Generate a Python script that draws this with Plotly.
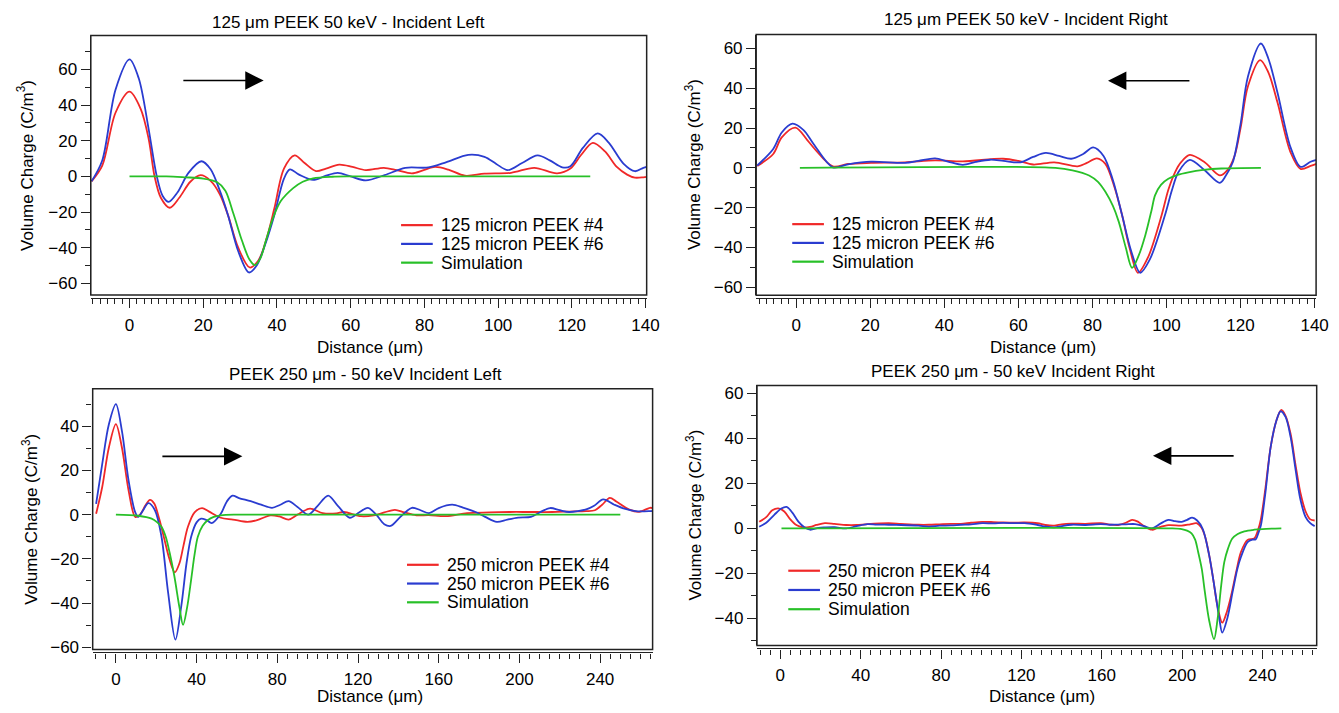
import plotly.graph_objects as go

W, H = 1339, 713
FONT = "Liberation Sans, Arial, sans-serif"
RED, BLUE, GREEN = "#f02828", "#2a3cd0", "#28c028"
FS = 17

# ---------------- data ----------------
# Panel 1: 125 um PEEK, incident left
p1_red_x = [-10.3, -7.4, -3.8, 0, 3, 5.2, 6.8, 8.5, 10.9, 13.5, 16.5, 19.3, 22, 24.5, 26.7, 29.5, 32.6, 35, 37.3, 39.3, 41.9, 44.8, 47.5, 50.6, 53.3, 56.9, 60.5, 64.1, 69, 72.5, 76.6, 79.8, 82.9, 86.5, 91, 96.3, 103.5, 109.8, 116, 119.6, 122.5, 125.7, 129, 132.2, 135, 137.1, 139.4, 140.5]
p1_red_y = [-2.8, 6, 35.7, 47.5, 38, 21, 0, -12, -17.6, -12, -3, 0.7, -2.5, -10, -21.6, -40, -51.1, -47, -34, -17.9, 4.3, 11.8, 7.5, 3, 4.4, 6.6, 5.3, 3.5, 4.8, 3.5, 1.7, 3.5, 5.3, 3.8, 0.4, 1.5, 2, 4.8, 1.7, 4.4, 12, 18.8, 14, 5.3, 1, -0.7, -0.5, -0.2]
p1_blue_x = [-10.3, -7.4, -3.8, 0, 2.5, 5.2, 7.4, 9, 10.6, 13, 16, 19.5, 22, 24.5, 26.7, 29.5, 32.4, 34.5, 37, 39.3, 41.9, 43.5, 46, 49.8, 53.3, 56.5, 60, 64.1, 69.2, 74.8, 81.1, 86, 91.9, 96.3, 99.5, 102.6, 106.5, 110.7, 114, 117.4, 119.6, 123, 127, 130, 134, 137.1, 139.4, 140.5]
p1_blue_y = [-2.8, 8.9, 48.6, 65.6, 55, 26.4, 0, -11, -14.3, -9, 2, 8.5, 4, -8, -21.6, -42, -53.9, -50, -37, -21.6, -1.3, 3.9, 1, -2, 0.4, 2, 0, -2.2, 0.7, 4.8, 5, 8, 12.1, 11, 7, 3.5, 7.5, 11.8, 9, 5.1, 5.7, 16, 24.1, 19, 7.2, 2.9, 4.8, 5.5]
p1_sim_x = [0, 10, 15, 20, 23.8, 26, 28.2, 30.5, 32.5, 34, 35.5, 37, 39, 41, 44.4, 47, 49.8, 55, 60, 125]
p1_sim_y = [0, 0, -0.5, -1.2, -3.3, -8, -21, -36, -46.5, -49.8, -46, -36, -23, -14, -6.6, -3, -1.1, -0.2, 0, 0]

# Panel 2: 125 um PEEK, incident right
p2_red_x = [-10.5, -6.2, -3.9, -0.2, 3, 5, 9.9, 14, 20.2, 29.4, 37.5, 45, 55.9, 60, 64, 69.7, 76, 78.5, 81.2, 83.5, 86, 88, 90, 92.3, 95, 98.7, 100.5, 102.3, 104, 106.3, 110.3, 114.4, 116.5, 118.4, 120, 122, 125.3, 127.5, 130, 133.5, 136.2, 138.9, 140.5]
p2_red_y = [1, 7, 15.3, 20.2, 14, 9.5, 0.8, 2, 2.5, 2.8, 3.8, 3.3, 4.6, 3.5, 1.7, 2.8, 0.8, 2.5, 4.8, 2, -10, -23.7, -40, -52.7, -45, -23.7, -11, -2.2, 3, 6.5, 2.8, -3.8, -1, 6.1, 20, 41, 54.2, 48, 32.7, 7.8, -0.5, 1, 2]
p2_blue_x = [-10.5, -6.2, -3.9, -1, 2, 4.7, 9.9, 14, 20.2, 29.4, 33, 37.5, 41, 45, 48.5, 52.4, 56, 60.5, 64, 67.4, 71, 74.3, 77.5, 80.2, 83, 85.5, 88, 90.5, 92.9, 95.5, 99.6, 101.5, 103.2, 106.3, 110.3, 114.4, 116, 117.9, 120, 122, 125.5, 127.5, 130, 133.5, 136.2, 138.9, 140.5]
p2_blue_y = [1.2, 9.5, 17.8, 22.2, 19, 12, 0.3, 1.8, 3.1, 2.5, 3.5, 4.8, 3.2, 1.5, 3, 4.1, 3.5, 2.8, 5.5, 7.5, 6, 4.6, 7, 10.3, 6, -6, -23.7, -42, -52.7, -46, -23.7, -11, -2.2, 4, -1.2, -7.5, -4, 2.8, 22, 45.9, 62.5, 55, 37.6, 10.3, 0.5, 3.1, 4]
p2_sim_x = [1, 70, 74.6, 79.1, 81.5, 83.5, 85.5, 87.1, 89, 90.7, 92.5, 94.3, 96, 96.9, 98.5, 100.5, 103, 105.9, 110, 114.8, 125.5]
p2_sim_y = [0, 0, -1.2, -3.8, -7, -12, -19, -27, -40, -50.2, -44, -33.7, -21, -13.8, -8.5, -5.5, -3.5, -2.2, -1, -0.3, 0]

# Panel 3: 250 um PEEK, incident left
p3_red_x = [-9.8, -6.8, -3.5, 0, 3, 6.3, 9.6, 12, 14.5, 16.9, 19, 21.5, 24, 26.5, 29.2, 31.5, 33.5, 35.7, 39, 42.7, 46, 52, 58, 65.2, 70, 76.6, 81, 85.6, 90, 96.2, 102.5, 109.3, 113, 121.5, 127.8, 133, 138.3, 143, 148.9, 155, 163.6, 174.1, 185, 195.2, 205, 216.3, 225, 233.1, 237.4, 241, 244.8, 248, 254.2, 259.4, 264.7, 266]
p3_red_y = [0.4, 12.4, 30.3, 41, 30.3, 10.9, -1, 0, 4, 6.7, 5, -2, -11, -20, -26.1, -22, -14, -5.5, 1, 3, 1.5, -1.4, -2.2, -3.3, -2.5, -0.3, -0.8, -2.2, 0, 2.7, 0.7, 0.6, 1.2, -0.7, -0.3, 1, 2.2, 1, -0.3, -0.2, -0.7, 0.7, 1, 1.2, 1.2, 1.2, 1.4, 1.6, 2, 4.5, 7.6, 6, 2.4, 1.3, 3.1, 3]
p3_blue_x = [-9.8, -6.8, -3.5, 0, 3, 6.3, 9.6, 11.1, 13.5, 16.1, 19.4, 22.6, 25.9, 29.5, 32.4, 35, 37.3, 40, 42.2, 45, 47.5, 52, 55, 57.8, 61, 66.8, 72, 77.4, 81.5, 85.6, 90, 95.4, 100, 105.2, 110, 115.9, 120.5, 124.9, 129, 133, 136.2, 141, 146.7, 151, 155.2, 160, 166.7, 172, 178.3, 183, 188.8, 194, 199.4, 205.7, 210, 215.2, 220, 224.6, 229, 233.1, 237, 241.5, 247, 252, 258.4, 264.7, 266]
p3_blue_y = [4.9, 22.8, 40.8, 50, 37.8, 15.4, 1, -1, 2, 5.2, 1.9, -10, -35.4, -56.6, -41.4, -22, -10, -3.5, -1.8, -2.5, -3.8, 0.4, 6, 8.6, 7.5, 6.1, 4.5, 3.1, 4.5, 6.1, 3.5, 0, 4, 8.6, 4, -1.4, 1, 3.1, 0, -4.3, -5.1, -1, 3.1, 2, 0.7, 3, 4.5, 3.2, 1.2, -1, -3.3, -2.2, -1.3, -1, 1, 3, 2, 1.2, 1.6, 2.4, 4, 6.9, 4.5, 2.7, 1.5, 1.6, 1.7]
p3_sim_x = [0, 11, 17.7, 20.5, 22.6, 24.7, 26.7, 29, 31.5, 33.3, 35.3, 37.3, 39, 40.6, 43, 45.5, 48.5, 52, 60, 250]
p3_sim_y = [0, -0.5, -1.8, -3.5, -5.5, -10, -17.5, -28, -42, -49.9, -42, -29.4, -18, -10, -5, -2.5, -1, -0.3, 0, 0]

# Panel 4: 250 um PEEK, incident right
p4_red_x = [-10.5, -7, -4, -1, 2, 5, 8, 11, 14.8, 18, 22.2, 27, 32.8, 38, 43.4, 54, 60, 68.8, 74, 79.3, 85, 89.9, 95, 100.5, 106, 111, 116, 121.6, 128, 132, 136.4, 140, 144.9, 152, 159.6, 164, 168.2, 172, 175.1, 178, 181, 185, 188, 193.2, 199.8, 204, 207.2, 209.5, 211.3, 213.5, 215.4, 217.5, 220, 222.3, 224.5, 227, 229.3, 232.6, 235.9, 237.7, 239.2, 241.5, 244.1, 247, 249.4, 251.5, 254, 256.5, 258.9, 261.5, 263.8, 266]
p4_red_y = [2.9, 5, 8, 8.9, 7.5, 4, 1.5, 0.5, 0.7, 1.5, 2.3, 2, 1.5, 1.5, 1.9, 2.3, 2, 1.6, 1.6, 1.8, 2, 2, 2.5, 2.9, 2.8, 2.6, 2.5, 2.6, 2.3, 1.5, 1.2, 1.8, 2.1, 2, 2.3, 1.7, 1.5, 2.5, 3.8, 3, 1, -0.6, 0.3, 1.4, 1.2, 1.8, 2.3, 0.5, -3.2, -12, -22, -34, -41.9, -37, -29.5, -19, -10.5, -5.1, -4.5, -1, 4, 18, 36.2, 48, 52.6, 50, 42, 28, 15.8, 7.5, 4, 3.5]
p4_blue_x = [-10.5, -7, -3, 0.5, 3.2, 6, 9, 12, 14.8, 19, 22.2, 27, 32.8, 38, 43.4, 48, 54, 60, 68.8, 74, 79.3, 85, 89.9, 95, 100.5, 106, 111, 116, 121.6, 128, 132, 136.4, 140, 144.9, 152, 159.6, 164, 168.2, 172, 176.6, 181, 185, 189, 193.2, 196.5, 199.8, 202.5, 205, 207.5, 210.3, 213.5, 216.2, 218.5, 220, 222.5, 225.2, 227.5, 229.3, 232.6, 235, 236.7, 238, 239.2, 241.5, 244.1, 247, 249, 251.5, 254, 256.5, 258.9, 261.5, 263.8, 266]
p4_blue_y = [0.7, 2.5, 6, 8.8, 9.5, 7, 3, 0.5, -0.6, 0.2, 0.4, 0.5, 0, 1, 1.9, 1.7, 1.6, 1.5, 1.2, 0.8, 1.2, 1.3, 1.6, 1.8, 2.3, 2.2, 2.4, 2.3, 2.3, 1.5, 0.8, 0.4, 1, 1.6, 1.5, 1.9, 1.6, 1.7, 1.8, 1.9, 1, 0, 2, 3.8, 3.2, 2.9, 3.8, 4.8, 3.5, -0.3, -12, -26.6, -40, -46.3, -40, -28, -18, -12.7, -6.1, -5, -4.8, -2, 1.2, 16, 36.2, 48, 52, 49.5, 40.6, 26, 12.8, 5, 2.3, 1]
p4_sim_x = [0.6, 195, 199.8, 202.5, 204.7, 206.5, 208, 209.8, 211.3, 213.5, 215.9, 217.7, 219.5, 221, 222.8, 225, 227.7, 231, 235.9, 240, 249.4]
p4_sim_y = [0, 0, -0.3, -1, -2.2, -5, -10.5, -18, -28, -41, -49.2, -40, -25.1, -15, -9.1, -4.5, -2.5, -1.3, -0.6, -0.3, 0]

titles = ["125 \u03bcm PEEK 50 keV - Incident Left", "125 \u03bcm PEEK 50 keV - Incident Right",
          "PEEK 250 \u03bcm - 50 keV Incident Left", "PEEK 250 \u03bcm - 50 keV Incident Right"]
names_125 = ["125 micron PEEK #4", "125 micron PEEK #6", "Simulation"]
names_250 = ["250 micron PEEK #4", "250 micron PEEK #6", "Simulation"]
x_label = "Distance (\u03bcm)"
y_label = "Volume Charge (C/m<sup>3</sup>)"

# ---------------- layout geometry (pixels) ----------------
boxes = [(91.7, 653, 35, 297.7), (763.6, 1329, 34, 298),
         (93.6, 659, 392.7, 656.7), (764.4, 1329.6, 389.3, 652.7)]
xranges = [[-10.5, 140.3], [-10.8, 140.4], [-11.5, 266], [-11.6, 267]]
yranges = [[-66.5, 79], [-64, 67], [-61, 57], [-52, 63.5]]
xdt = [(20, 2), (20, 2), (40, 5), (40, 5)]
title_pos = [(352, 21.5), (1036, 19), (369, 378.5), (1023, 375)]
xlab_pos = [(374, 351), (1053, 351), (374, 704.5), (1052, 704.5)]
ylab_x = [26, 700, 30, 701]
legend_pos = [(405, 227, 19), (800, 226, 19), (411, 571, 19), (796, 577, 19.5)]
arrows = [(36.4, 53.8, 14.2, 53.8), (84.2, 43.8, 106.6, 43.8),
          (62.7, 26.4, 22.3, 26.4), (185.5, 32.2, 226.4, 32.2)]

def px(x):
    return x / W

def py(y):
    return 1 - y / H

series = [
    (p1_red_x, p1_red_y, p1_blue_x, p1_blue_y, p1_sim_x, p1_sim_y, names_125),
    (p2_red_x, p2_red_y, p2_blue_x, p2_blue_y, p2_sim_x, p2_sim_y, names_125),
    (p3_red_x, p3_red_y, p3_blue_x, p3_blue_y, p3_sim_x, p3_sim_y, names_250),
    (p4_red_x, p4_red_y, p4_blue_x, p4_blue_y, p4_sim_x, p4_sim_y, names_250),
]

fig = go.Figure()
layout = dict(width=W, height=H, margin=dict(l=0, r=0, t=0, b=0),
              paper_bgcolor="white", plot_bgcolor="white", showlegend=False,
              font=dict(family=FONT, size=FS, color="black"))
annotations = []
shapes = []

for i, (rx, ry, bx, by, sx, sy, names) in enumerate(series):
    k = "" if i == 0 else str(i + 1)
    xa, ya = "x" + k, "y" + k
    cols = [RED, BLUE, GREEN]
    for (xs, ys, col, nm) in zip([rx, bx, sx], [ry, by, sy], cols, names):
        fig.add_trace(go.Scatter(x=xs, y=ys, mode="lines", name=nm, xaxis=xa, yaxis=ya,
                                 line=dict(color=col, width=1.8, shape="spline", smoothing=0.9)))
    l, r, t, b = boxes[i]
    layout["xaxis" + k] = dict(domain=[px(l), px(r)], range=xranges[i], anchor="free",
                               position=py(b + 3), showline=True, linecolor="#222", linewidth=1.4,
                               ticks="outside", ticklen=9, tickwidth=1.4, tickcolor="#222",
                               dtick=xdt[i][0], tick0=0, showgrid=False, zeroline=False,
                               minor=dict(dtick=xdt[i][1], ticks="outside", ticklen=5, tickwidth=1.2,
                                          tickcolor="#222", showgrid=False),
                               tickfont=dict(size=FS), ticklabelstandoff=2)
    layout["yaxis" + k] = dict(domain=[py(b), py(t)], range=yranges[i], anchor=xa,
                               showline=True, linecolor="#222", linewidth=1.4,
                               ticks="outside", ticklen=9, tickwidth=1.4, tickcolor="#222",
                               dtick=20, tick0=0, showgrid=False, zeroline=False,
                               minor=dict(dtick=10, ticks="outside", ticklen=5, tickwidth=1.2,
                                          tickcolor="#222", showgrid=False),
                               tickfont=dict(size=FS))
    shapes.append(dict(type="rect", xref=xa + " domain", yref=ya + " domain", x0=0, x1=1, y0=0, y1=1,
                       line=dict(color="#222", width=1.5), fillcolor="rgba(0,0,0,0)", layer="above"))
    # legend (line sample + label) for each panel
    lx, ly, step = legend_pos[i]
    for j, (col, nm) in enumerate(zip(cols, names)):
        yy = ly + j * step
        shapes.append(dict(type="line", xref="paper", yref="paper", x0=px(lx), x1=px(lx + 32),
                           y0=py(yy), y1=py(yy), line=dict(color=col, width=2.2)))
        annotations.append(dict(text=nm, x=px(lx + 38), y=py(yy), xref="paper", yref="paper",
                                showarrow=False, font=dict(size=17.5), xanchor="left", yanchor="middle"))
    tx, ty = title_pos[i]
    annotations.append(dict(text=titles[i], x=px(tx), y=py(ty), xref="paper", yref="paper",
                            showarrow=False, font=dict(size=FS), xanchor="center", yanchor="middle"))
    xx, xy = xlab_pos[i]
    annotations.append(dict(text=x_label, x=px(xx), y=py(xy), xref="paper", yref="paper",
                            showarrow=False, font=dict(size=FS), xanchor="center", yanchor="middle"))
    annotations.append(dict(text=y_label, x=px(ylab_x[i]), y=py((t + b) / 2), xref="paper", yref="paper",
                            showarrow=False, font=dict(size=FS), textangle=-90,
                            xanchor="center", yanchor="middle"))
    hx, hy, tx0, ty0 = arrows[i]
    annotations.append(dict(x=hx, y=hy, ax=tx0, ay=ty0, xref=xa, yref=ya, axref=xa, ayref=ya,
                            text="", showarrow=True, arrowhead=2, arrowsize=2.3, arrowwidth=1.6,
                            arrowcolor="black", standoff=0))

layout["annotations"] = annotations
layout["shapes"] = shapes
fig.update_layout(**layout)
fig.write_html("out.html")
